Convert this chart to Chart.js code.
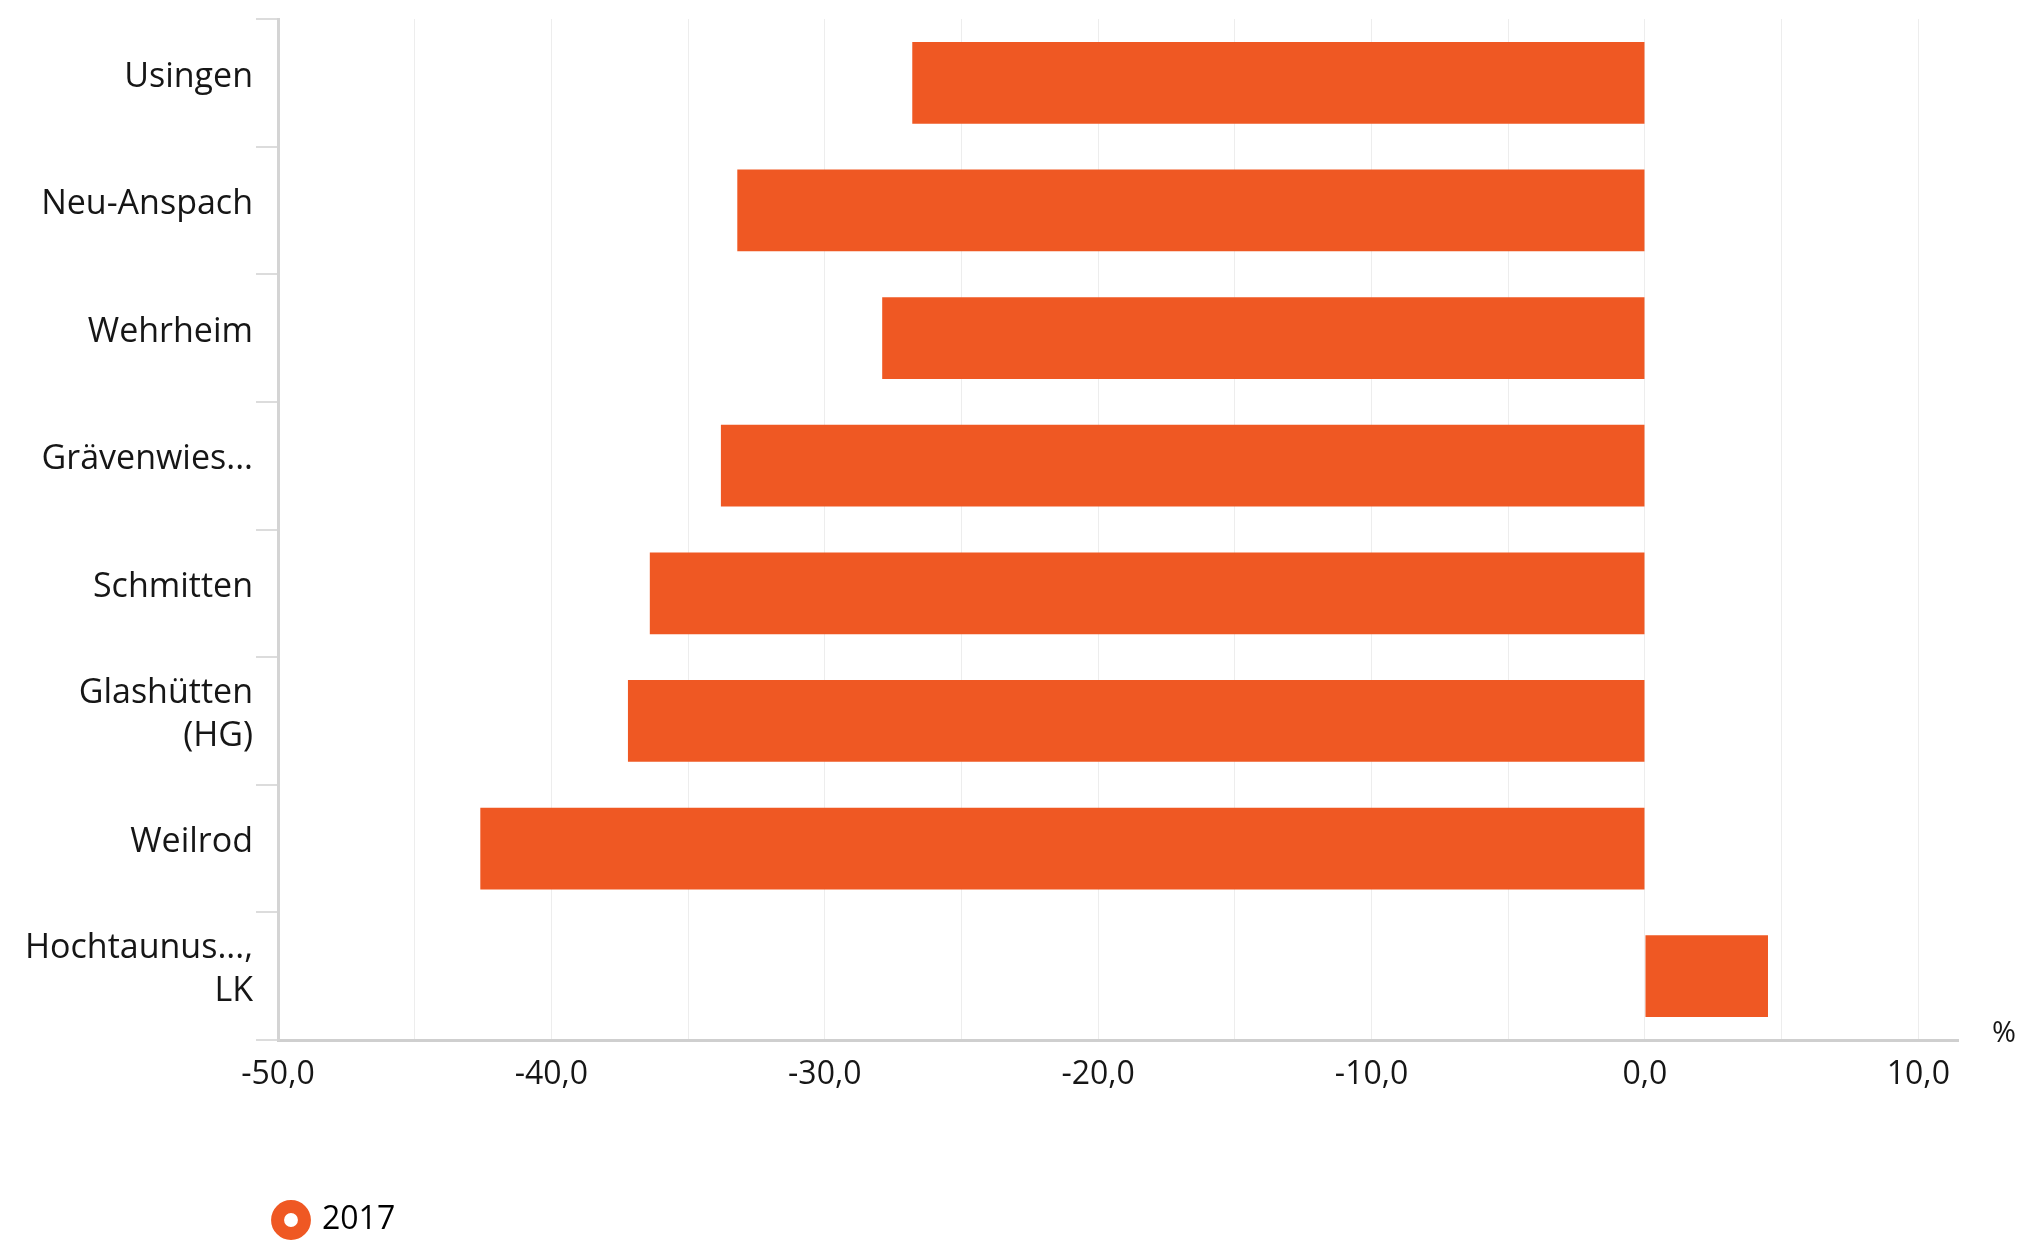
<!DOCTYPE html>
<html>
<head>
<meta charset="utf-8">
<script src="https://cdn.jsdelivr.net/npm/chart.js@4"></script>
<style>
  html, body { margin: 0; padding: 0; background: #fff; }
  #wrap { width: 2027px; height: 1246px; }
</style>
</head>
<body>
<div id="wrap"><canvas id="chart" width="2027" height="1246"></canvas></div>
<script>
// Data
const categories = ['Usingen', 'Neu-Anspach', 'Wehrheim', 'Grävenwies...', 'Schmitten', ['Glashütten', '(HG)'], 'Weilrod', ['Hochtaunus...,', 'LK']];
const values2017 = [-26.8, -33.2, -27.9, -33.8, -36.4, -37.2, -42.6, 4.5];
const seriesLabel = '2017';
const gridValues = [-50, -45, -40, -35, -30, -25, -20, -15, -10, -5, 0, 5, 10];
const labelledTicks = [-50, -40, -30, -20, -10, 0, 10];
const unitLabel = '%';

const ORANGE = '#EF5823';
const TEXT = '#161616';

Chart.defaults.font.family = "'Open Sans', 'Noto Sans', sans-serif";
Chart.defaults.color = TEXT;

// "%" at the end of the x axis, legend nudged under the plot
const extrasPlugin = {
  id: 'extras',
  afterLayout(chart) {
    if (chart.legend) {
      chart.legend.left = 266;
      chart.legend.right = chart.width;
    }
  },
  afterDraw(chart) {
    const { ctx, chartArea } = chart;
    ctx.save();
    ctx.font = "29px 'Open Sans', sans-serif";
    ctx.fillStyle = TEXT;
    ctx.textAlign = 'center';
    ctx.textBaseline = 'middle';
    ctx.fillText(unitLabel, chartArea.right + 46, chartArea.bottom - 6);
    ctx.restore();
  }
};

new Chart(document.getElementById('chart'), {
  type: 'bar',
  data: {
    labels: categories,
    datasets: [{
      label: seriesLabel,
      data: values2017,
      backgroundColor: ORANGE,
      borderWidth: 0,
      categoryPercentage: 1,
      barPercentage: 0.64,
    }]
  },
  options: {
    indexAxis: 'y',
    responsive: false,
    animation: false,
    devicePixelRatio: 1,
    layout: { padding: { top: 19, right: 69, left: 0, bottom: 0 } },
    plugins: {
      tooltip: { enabled: false },
      legend: {
        position: 'bottom',
        align: 'start',
        labels: {
          usePointStyle: true,
          boxWidth: 30,
          boxHeight: 19,
          padding: 10,
          color: TEXT,
          font: { size: 32 },
          generateLabels: () => [{
            text: seriesLabel,
            fillStyle: '#fff',
            strokeStyle: ORANGE,
            lineWidth: 13,
            pointStyle: 'circle',
            hidden: false,
            datasetIndex: 0,
          }]
        }
      }
    },
    scales: {
      x: {
        min: -50,
        max: 11.45,
        afterBuildTicks: (scale) => { scale.ticks = gridValues.map(v => ({ value: v })); },
        afterFit: (scale) => { scale.height = 154; },
        grid: { color: '#ededed', lineWidth: 1, drawTicks: false },
        border: { color: '#cfcfcf', width: 3 },
        ticks: {
          padding: 16,
          color: TEXT,
          font: { size: 32 },
          maxRotation: 0,
          autoSkip: false,
          callback: (v) => labelledTicks.includes(v) ? v.toFixed(1).replace('.', ',') : ''
        }
      },
      y: {
        afterFit: (scale) => { scale.width = 278; scale.paddingTop = 0; scale.paddingBottom = 0; },
        grid: { drawOnChartArea: false, offset: true, tickLength: 22, color: '#dcdcdc', lineWidth: 2 },
        border: { color: '#d4d4d4', width: 3 },
        ticks: { padding: 3, labelOffset: -6, color: TEXT, font: { size: 34, lineHeight: 1.27 }, autoSkip: false }
      }
    }
  },
  plugins: [extrasPlugin]
});
</script>
</body>
</html>
